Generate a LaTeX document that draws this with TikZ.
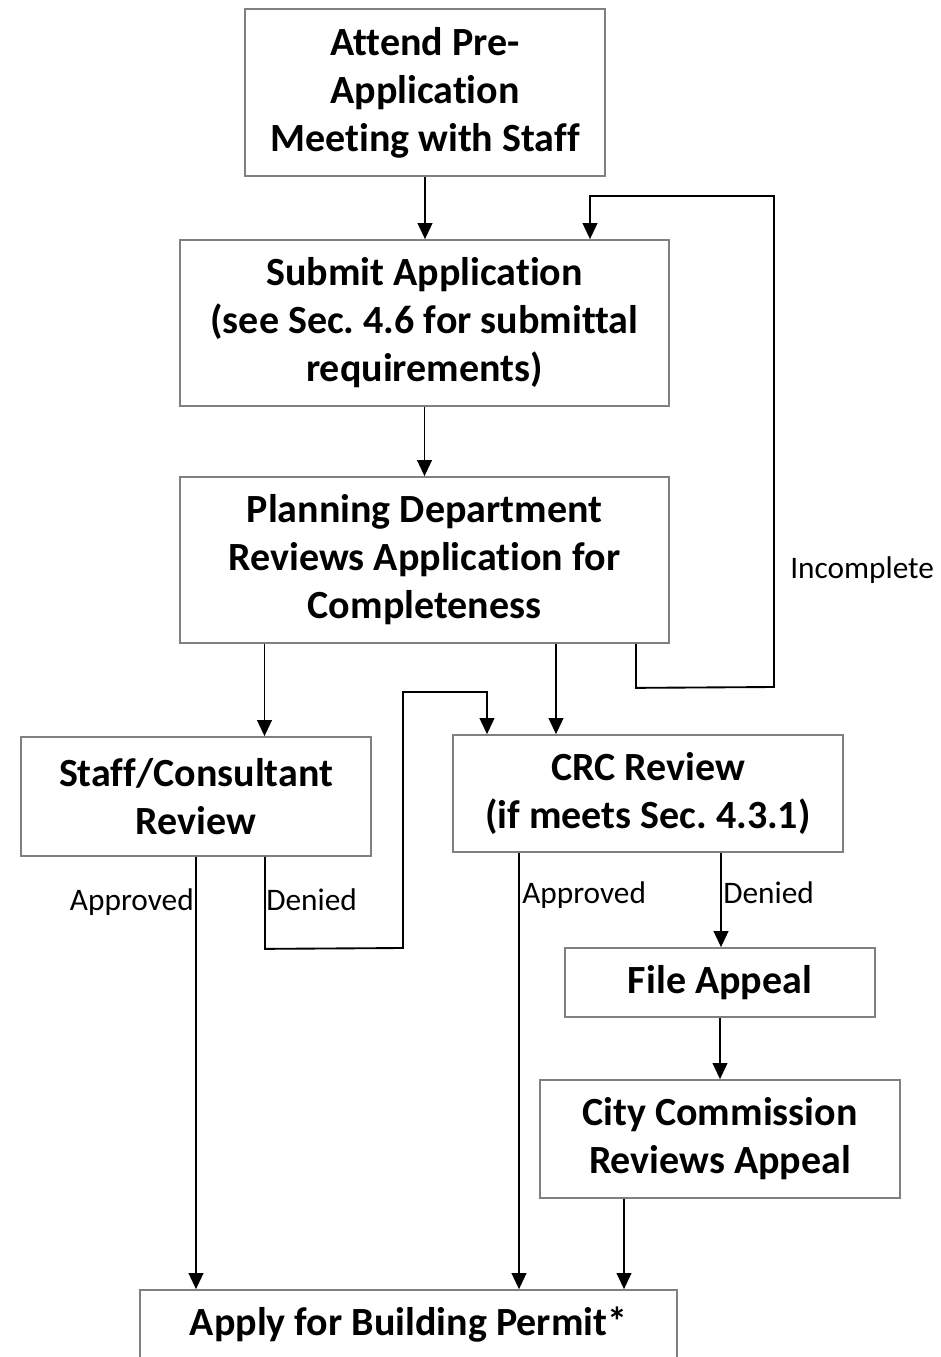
\documentclass[tikz,border=0pt]{standalone}
\usepackage{fontspec}
\setmainfont{Carlito}[Ligatures=NoCommon]
\usetikzlibrary{arrows.meta,calc}
\definecolor{boxgray}{RGB}{128,128,128}
\frenchspacing

\begin{document}
\begin{tikzpicture}[x=0.75pt,y=-0.75pt,
    stepbox/.style={draw=boxgray, line width=1.3pt, inner sep=0pt, align=center,
      font=\fontsize{30}{36}\selectfont\bfseries},
    conn/.style={line width=1.4pt, -{Triangle[width=11pt,length=12pt]}},
    lbl/.style={font=\fontsize{23.5}{28}\selectfont, inner sep=0pt}]

    \useasboundingbox (0,0) rectangle (941,1357);

    %% Site plan review process

    % Boxes
    \node[stepbox, minimum width=270pt, minimum height=125.25pt] (attend) at (425,92.5)
      {Attend Pre-\\Application\\Meeting with Staff};
    \node[stepbox, minimum width=366.75pt, minimum height=124.5pt] (submit) at (424.5,323)
      {Submit Application\\(see Sec. 4.6 for submittal\\requirements)};
    \node[stepbox, minimum width=366.75pt, minimum height=124.5pt] (plan) at (424.5,560)
      {Planning Department\\Reviews Application for\\Completeness};
    \node[stepbox, minimum width=262.5pt, minimum height=89.25pt] (staff) at (196,796.5)
      {Staff/Consultant\\Review};
    \node[stepbox, minimum width=292.5pt, minimum height=87.75pt] (crc) at (648,793.5)
      {CRC Review\\(if meets Sec. 4.3.1)};
    \node[stepbox, minimum width=232.5pt, minimum height=51.75pt] (file) at (720,982.5)
      {File Appeal};
    \node[stepbox, minimum width=270pt, minimum height=88.5pt] (city) at (720,1139)
      {City Commission\\Reviews Appeal};
    \node[stepbox, minimum width=402.75pt, minimum height=52.5pt] (apply) at (408.5,1325)
      {Apply for Building Permit*};

    % Main line
    \draw[conn] (attend.south) -- (attend.south |- submit.north);
    \draw[conn] (submit.south) -- (plan.north);
    \draw[conn] ($(plan.south)+(-160,0)$) coordinate (p1) -- (p1 |- staff.north);
    \draw[conn] ($(plan.south)+(131.5,0)$) coordinate (p2) -- (p2 |- crc.north);

    % Incomplete loop back to submittal
    \draw[conn] ($(plan.south)+(211.5,0)$) -- ++(0,44) -- (774,687) -- (774,196)
      -| ($(submit.north)+(165.5,0)$);
    \node[lbl, anchor=base west] (incomplete) at (790,578) {Incomplete};

    % Staff review outcomes
    \draw[conn] (staff.south) -- (staff.south |- apply.north);
    \node[lbl, anchor=base east] (staffok) at (194,910) {Approved};
    \draw[conn] ($(staff.south)+(69,0)$) -- ++(0,92) -- (403,948) -- (403,692)
      -| ($(crc.north)+(-161,0)$);
    \node[lbl, anchor=base west] (staffno) at (266,910) {Denied};

    % CRC review outcomes
    \draw[conn] ($(crc.south)+(-129,0)$) coordinate (c1) -- (c1 |- apply.north);
    \node[lbl, anchor=base west] (crcok) at (522,903) {Approved};
    \draw[conn] ($(crc.south)+(73,0)$) coordinate (c2) -- (c2 |- file.north);
    \node[lbl, anchor=base west] (crcno) at (723,903) {Denied};

    % Appeal
    \draw[conn] (file.south) -- (city.north);
    \draw[conn] ($(city.south)+(-96,0)$) coordinate (a1) -- (a1 |- apply.north);

\end{tikzpicture}
\end{document}
